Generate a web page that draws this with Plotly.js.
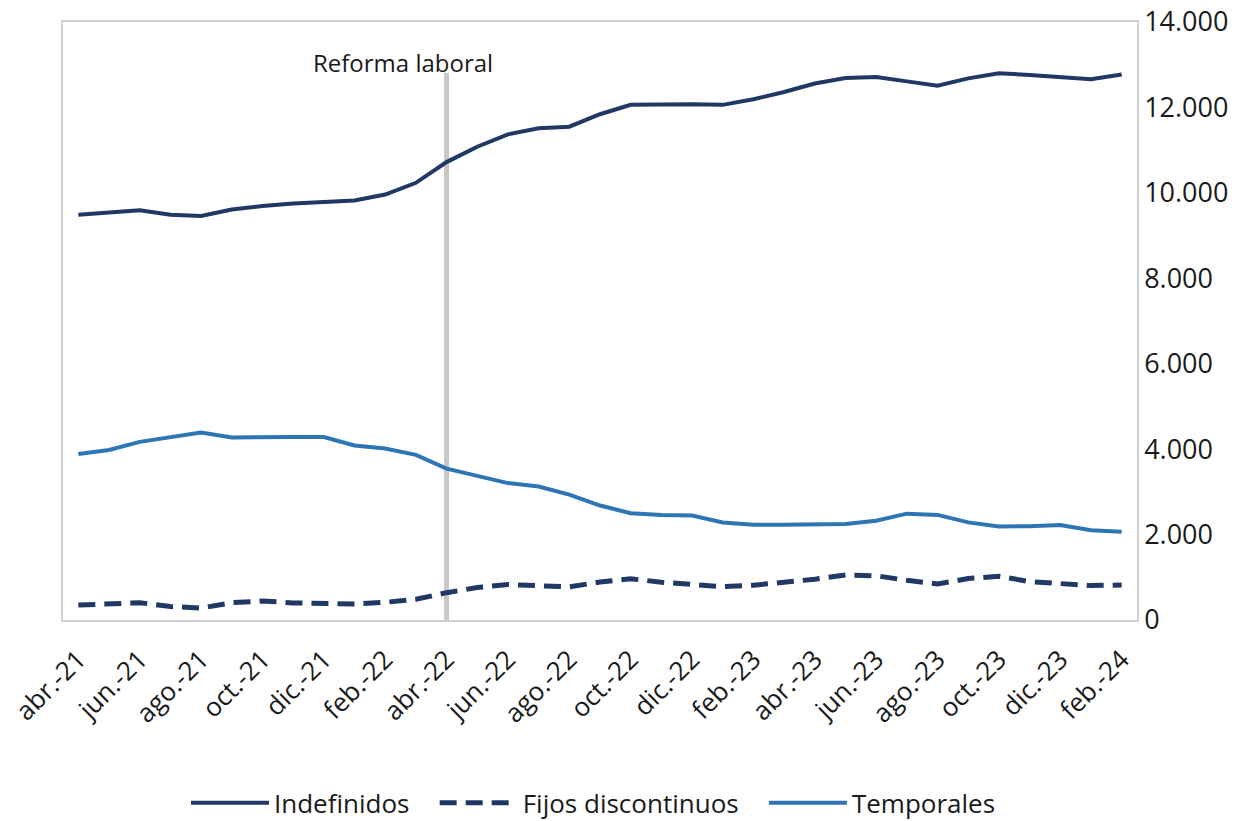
<!DOCTYPE html>
<html>
<head>
<meta charset="utf-8">
<script src="https://cdn.plot.ly/plotly-3.0.1.min.js"></script>
<style>
html, body { margin: 0; padding: 0; background: #ffffff; }
#chart { width: 1252px; height: 821px; }
</style>
</head>
<body>
<div id="chart"></div>
<script>
var months = ["abr.-21","may.-21","jun.-21","jul.-21","ago.-21","sep.-21","oct.-21","nov.-21","dic.-21","ene.-22","feb.-22","mar.-22",
  "abr.-22","may.-22","jun.-22","jul.-22","ago.-22","sep.-22","oct.-22","nov.-22","dic.-22","ene.-23","feb.-23","mar.-23",
  "abr.-23","may.-23","jun.-23","jul.-23","ago.-23","sep.-23","oct.-23","nov.-23","dic.-23","ene.-24","feb.-24"];

var indefinidos = [9490,9545,9590,9490,9460,9610,9695,9750,9780,9820,9960,10235,
  10720,11080,11370,11510,11550,11840,12060,12070,12075,12060,12190,12360,
  12560,12690,12710,12610,12510,12680,12800,12760,12720,12660,12770];

var fijosDiscontinuos = [350,375,405,315,280,405,445,400,375,375,415,485,
  640,760,830,800,775,890,965,885,820,780,815,875,
  955,1055,1035,930,845,970,1025,900,860,805,820];

var temporales = [3885,3980,4170,4275,4390,4275,4290,4285,4285,4085,4015,3865,
  3545,3380,3205,3125,2935,2680,2500,2460,2445,2285,2230,2230,
  2230,2245,2325,2490,2460,2285,2190,2195,2225,2100,2065];

var tickLabels = ["abr.-21","jun.-21","ago.-21","oct.-21","dic.-21","feb.-22","abr.-22","jun.-22","ago.-22",
  "oct.-22","dic.-22","feb.-23","abr.-23","jun.-23","ago.-23","oct.-23","dic.-23","feb.-24"];

var seriesNames = ["Indefinidos", "Fijos discontinuos", "Temporales"];

var reformaMonth = "abr.-22";
var reformaLabel = "Reforma laboral";

var FONT = "'Open Sans', 'Noto Sans', sans-serif";
var navy = "#203864";
var lightBlue = "#2e75b6";
var PAD = "\u00a0\u00a0\u00a0";

var traces = [
  { x: months, y: indefinidos, name: seriesNames[0] + PAD, type: "scatter", mode: "lines",
    line: { color: navy, width: 4 } },
  { x: months, y: fijosDiscontinuos, name: seriesNames[1] + PAD, type: "scatter", mode: "lines",
    line: { color: navy, width: 5, dash: "17px,9px" } },
  { x: months, y: temporales, name: seriesNames[2], type: "scatter", mode: "lines",
    line: { color: lightBlue, width: 4 } }
];

var layout = {
  width: 1252, height: 821,
  margin: { l: 63, r: 115, t: 22, b: 201, autoexpand: false },
  paper_bgcolor: "#ffffff", plot_bgcolor: "#ffffff",
  separators: ",.",
  font: { family: FONT, size: 24, color: "#1a1a1a" },
  showlegend: true,
  legend: {
    orientation: "h", xref: "container", yref: "container",
    x: 0.474, xanchor: "center", y: 0.022, yanchor: "middle",
    font: { family: FONT, size: 26, color: "#1a1a1a" },
    itemwidth: 78, traceorder: "normal"
  },
  xaxis: {
    type: "category", categoryorder: "array", categoryarray: months,
    range: [-0.5, months.length - 0.5],
    tickmode: "array", tickvals: tickLabels, ticktext: tickLabels,
    tickangle: -45, ticks: "", showgrid: false, zeroline: false,
    ticklabelstandoff: 12,
    showline: true, mirror: true, linecolor: "#d0d0d0", linewidth: 1.5,
    tickfont: { family: FONT, size: 26, color: "#1a1a1a" }
  },
  yaxis: {
    side: "right", range: [0, 14000], dtick: 2000, tick0: 0, tickformat: ",d",
    showgrid: false, zeroline: false, ticks: "",
    showline: true, mirror: true, linecolor: "#d0d0d0", linewidth: 1.5,
    tickfont: { family: FONT, size: 27, color: "#1a1a1a" }
  },
  shapes: [
    { type: "line", xref: "x", yref: "paper", x0: reformaMonth, x1: reformaMonth, y0: 0, y1: 0.915,
      line: { color: "#c8c8c8", width: 5 }, layer: "below" }
  ],
  annotations: [
    { xref: "x", yref: "paper", x: reformaMonth, y: 0.933, xshift: -44, text: reformaLabel,
      showarrow: false, xanchor: "center", yanchor: "middle",
      font: { family: FONT, size: 24, color: "#1a1a1a" } }
  ]
};

Plotly.newPlot("chart", traces, layout, { displayModeBar: false, responsive: false });
</script>
</body>
</html>
